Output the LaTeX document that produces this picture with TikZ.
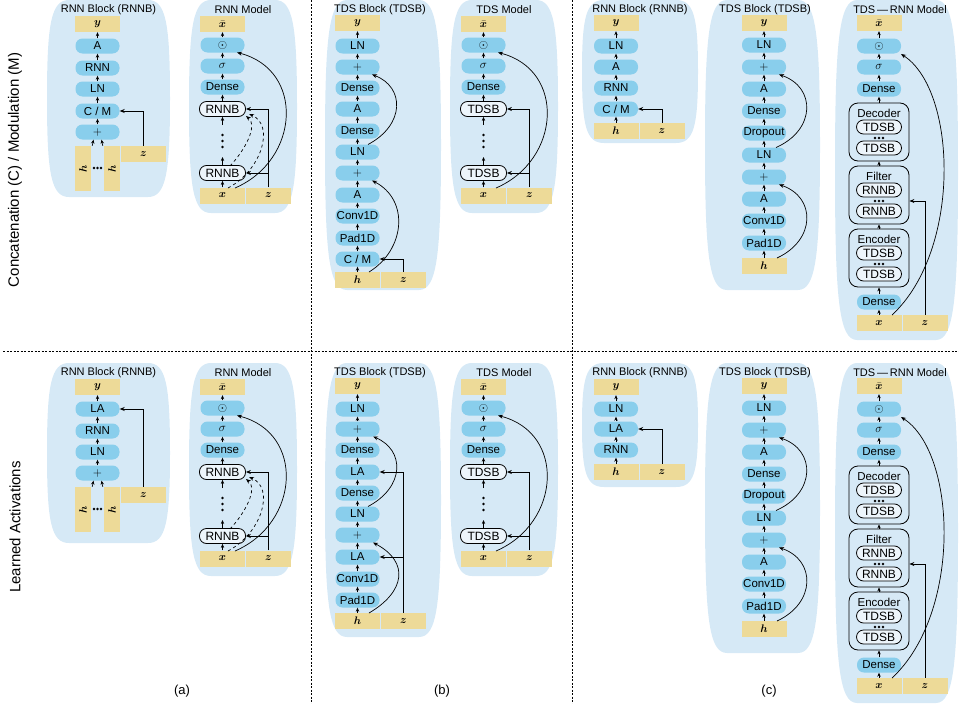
\documentclass[tikz,border=0pt]{standalone}
\usepackage{fontspec}
\setmainfont{Liberation Sans}
\usepackage{bm}
\usetikzlibrary{arrows.meta}
\definecolor{bgblue}{RGB}{214,233,246}
\definecolor{pillblue}{RGB}{137,206,236}
\definecolor{yellowc}{RGB}{237,218,152}
\newcommand\fsz{\fontsize{11}{13}\selectfont}
\newcommand\pfsz{\fontsize{11.5}{13}\selectfont}
\newcommand\ofsz{\fontsize{12}{14}\selectfont}
\tikzset{
 pill/.style={fill=pillblue, rounded corners=7pt, minimum width=44pt, minimum height=15pt, inner sep=0pt, font=\pfsz},
 opill/.style={draw=black, line width=0.8pt, fill=white!55!bgblue, rounded corners=7pt, minimum width=46pt, minimum height=15pt, inner ysep=0pt, inner xsep=5pt, font=\ofsz},
 ybox/.style={fill=yellowc, minimum width=45pt, minimum height=16pt, inner sep=0pt, font=\fsz},
 yboxtall/.style={fill=yellowc, minimum width=16pt, minimum height=45pt, inner sep=0pt},
 ttl/.style={font=\fsz, inner sep=0pt},
 sa/.style={-{Stealth[length=4pt,width=3.4pt]}, line width=0.6pt},
 conn/.style={-{Stealth[length=5pt,width=4pt]}, line width=0.7pt},
 grp/.style={draw=black, line width=0.8pt, rounded corners=9pt, minimum width=60pt, minimum height=58pt, inner sep=0pt},
 dot/.style={circle, fill=black, inner sep=0pt, minimum size=2.6pt},
 sepline/.style={dashed, dash pattern=on 2pt off 1.5pt, line width=0.6pt},
}
% soft background blob: left, top, right, bottom
\newcommand\bgblob[4]{%
\fill[bgblue] (#1+22,#2) -- (#3-22,#2)
 .. controls (#3-4,#2) and (#3,{#2+0.12*(#4-#2)}) .. (#3,{(#2+#4)/2})
 .. controls (#3,{#4-0.12*(#4-#2)}) and (#3-4,#4) .. (#3-22,#4)
 -- (#1+22,#4)
 .. controls (#1+4,#4) and (#1,{#4-0.12*(#4-#2)}) .. (#1,{(#2+#4)/2})
 .. controls (#1,{#2+0.12*(#4-#2)}) and (#1+4,#2) .. (#1+22,#2) -- cycle;}
% gated model (RNN Model / TDS Model)
\newcommand\GModel[6]{%
\begin{scope}[xshift=#3pt, yshift=#2pt]
\bgblob{189}{0}{297}{213}
\node[ttl] at (243,10) {#4};
\node[ybox] (#1xb) at (222.5,24) {$\bar{\bm{x}}$};
\node[pill] (#1o) at (222.5,45) {$\odot$};
\node[pill] (#1s) at (222.5,66) {$\sigma$};
\node[pill] (#1d) at (222.5,87) {Dense};
\node[opill] (#1b2) at (222.5,109) {#5};
\node[opill] (#1b1) at (222.5,173) {#5};
\node[ybox] (#1x) at (222.5,195.5) {$\bm{x}$};
\node[ybox] (#1z) at (268.5,195.5) {$\bm{z}$};
\node[dot] at (222.5,135) {};
\node[dot] at (222.5,141) {};
\node[dot] at (222.5,147) {};
\draw[sa] (#1x.north) -- (#1b1.south);
\draw[sa] (#1b1.north) -- (222.5,157);
\draw[sa] (222.5,125) -- (#1b2.south);
\foreach \a/\b in {#1b2/#1d, #1d/#1s, #1s/#1o, #1o/#1xb} \draw[sa] (\a.north) -- (\b.south);
\draw[conn] (#1z.north) |- (#1b2.east);
\draw[conn] (#1b1.east -| #1z.north) -- (#1b1.east);
\draw[conn] (235,188) .. controls (300,160) and (305,70) .. (237,52.5);
#6
\end{scope}}
% TDS block, panel (c)
\newcommand\TDSBc[2]{%
\begin{scope}[yshift=#2pt]
\bgblob{705}{0}{820}{290}
\node[ttl] at (765,10) {TDS Block (TDSB)};
\node[ybox] (#1y) at (764,23) {$\bm{y}$};
\node[pill] (#1lnb) at (764,45) {LN};
\node[pill] (#1pb) at (764,67) {$+$};
\node[pill] (#1ab) at (764,89) {A};
\node[pill] (#1d) at (764,111) {Dense};
\node[pill] (#1drop) at (764,133) {Dropout};
\node[pill] (#1lna) at (764,155) {LN};
\node[pill] (#1pa) at (764,177) {$+$};
\node[pill] (#1aa) at (764,199) {A};
\node[pill] (#1conv) at (764,221) {Conv1D};
\node[pill] (#1pad) at (764,243) {Pad1D};
\node[ybox] (#1h) at (764,266) {$\bm{h}$};
\foreach \a/\b in {#1h/#1pad, #1pad/#1conv, #1conv/#1aa, #1aa/#1pa, #1pa/#1lna, #1lna/#1drop, #1drop/#1d, #1d/#1ab, #1ab/#1pb, #1pb/#1lnb, #1lnb/#1y} \draw[sa] (\a.north) -- (\b.south);
\draw[conn] (777,258) .. controls (816,240) and (816,197) .. (779,184.5);
\draw[conn] (776,147.5) .. controls (816,130) and (816,87) .. (779,74.5);
\end{scope}}
% TDS-RNN model
\newcommand\TRModel[2]{%
\begin{scope}[yshift=#2pt]
\bgblob{835}{0}{958}{340}
\node[ttl] at (900,10) {TDS\,—\,RNN Model};
\node[ybox] (#1xb) at (879,23) {$\bar{\bm{x}}$};
\node[pill] (#1o) at (879,46) {$\odot$};
\node[pill] (#1s) at (879,67) {$\sigma$};
\node[pill] (#1d2) at (879,89) {Dense};
\node[grp] (#1dec) at (879,132) {};
\node[ttl, font=\pfsz] at (879,113) {Decoder};
\node[opill, minimum width=45pt, minimum height=14pt] (#1dt2) at (879,127) {TDSB};
\node[opill, minimum width=45pt, minimum height=14pt] (#1dt1) at (879,148) {TDSB};
\node[grp] (#1fil) at (879,195) {};
\node[ttl, font=\pfsz] at (879,176) {Filter};
\node[opill, minimum width=45pt, minimum height=14pt] (#1fr2) at (879,190) {RNNB};
\node[opill, minimum width=45pt, minimum height=14pt] (#1fr1) at (879,211) {RNNB};
\node[grp] (#1enc) at (879,258) {};
\node[ttl, font=\pfsz] at (879,239) {Encoder};
\node[opill, minimum width=45pt, minimum height=14pt] (#1et2) at (879,253) {TDSB};
\node[opill, minimum width=45pt, minimum height=14pt] (#1et1) at (879,274) {TDSB};
\foreach \yy in {138,201,264} {\node[dot] at (875,\yy) {}; \node[dot] at (879,\yy) {}; \node[dot] at (883,\yy) {};}
\node[pill] (#1d1) at (879,302) {Dense};
\node[ybox] (#1x) at (879,323) {$\bm{x}$};
\node[ybox] (#1z) at (925,323) {$\bm{z}$};
\foreach \a/\b in {#1x/#1d1, #1d1/#1enc, #1enc/#1fil, #1fil/#1dec, #1dec/#1d2, #1d2/#1s, #1s/#1o, #1o/#1xb} \draw[sa] (\a.north) -- (\b.south);
\draw[conn] (#1z.north) |- ([yshift=-6pt]#1fil.east);
\draw[conn] (892,315) .. controls (962,250) and (957,90) .. (901,54);
\end{scope}}

\begin{document}
\begin{tikzpicture}[x=1pt,y=-1pt]
\useasboundingbox (0,0) rectangle (959,704);

% separators and labels
\draw[sepline] (3,351) -- (959,351);
\draw[sepline] (311,0) -- (311,704);
\draw[sepline] (572,0) -- (572,704);
\node[rotate=90, font=\fontsize{15}{17}\selectfont] (lab1) at (15,170) {Concatenation (C) / Modulation (M)};
\node[rotate=90, font=\fontsize{15}{17}\selectfont] (lab2) at (15,527) {Learned Activations};
\node[font=\fontsize{13}{15}\selectfont] (capa) at (182,691) {(a)};
\node[font=\fontsize{13}{15}\selectfont] (capb) at (442,691) {(b)};
\node[font=\fontsize{13}{15}\selectfont] (capc) at (769,691) {(c)};

% ===== (a) top: RNN Block =====
\bgblob{47}{0}{170}{197}
\node[ttl] at (108.5,10) {RNN Block (RNNB)};
\node[ybox] (a1y) at (97.5,24) {$\bm{y}$};
\node[pill] (a1A) at (97.5,46) {A};
\node[pill] (a1rnn) at (97.5,68) {RNN};
\node[pill] (a1ln) at (97.5,89) {LN};
\node[pill] (a1cm) at (97.5,111) {C / M};
\node[pill] (a1p) at (97.5,132) {$+$};
\node[yboxtall] (a1h1) at (83,168.5) {};
\node[yboxtall] (a1h2) at (112,168.5) {};
\node[rotate=90, font=\fsz] at (a1h1) {$\bm{h}$};
\node[rotate=90, font=\fsz] at (a1h2) {$\bm{h}$};
\node[dot] at (94,168) {}; \node[dot] at (97.5,168) {}; \node[dot] at (101,168) {};
\node[ybox] (a1z) at (143.5,154) {$\bm{z}$};
\foreach \a/\b in {a1p/a1cm, a1cm/a1ln, a1ln/a1rnn, a1rnn/a1A, a1A/a1y} \draw[sa] (\a.north) -- (\b.south);
\draw[sa] ([xshift=1pt]a1h1.north east) -- ([xshift=-4pt]a1p.south);
\draw[sa] ([xshift=-1pt]a1h2.north west) -- ([xshift=4pt]a1p.south);
\draw[conn] (a1z.north) |- (a1cm.east);

% ===== (a) top: RNN Model =====
\GModel{a2}{0}{0}{RNN Model}{RNNB}{%
\draw[conn, dashed] (228,188) .. controls (262,170) and (275,125) .. (249,114);
\draw[conn, dashed] (230,166) .. controls (245,150) and (258,126) .. (246,116);}

% ===== (b) top: TDS Block =====
\bgblob{325}{0}{441}{290}
\node[ttl] at (380,10) {TDS Block (TDSB)};
\node[ybox] (b1y) at (357.5,23) {$\bm{y}$};
\node[pill] (b1lnb) at (357.5,46) {LN};
\node[pill] (b1pb) at (357.5,67) {$+$};
\node[pill] (b1db) at (357.5,88) {Dense};
\node[pill] (b1a) at (357.5,109) {A};
\node[pill] (b1da) at (357.5,131) {Dense};
\node[pill] (b1lna) at (357.5,152) {LN};
\node[pill] (b1pa) at (357.5,173) {$+$};
\node[pill] (b1aa) at (357.5,195) {A};
\node[pill] (b1conv) at (357.5,216) {Conv1D};
\node[pill] (b1pad) at (357.5,238) {Pad1D};
\node[pill] (b1cm) at (357.5,259) {C / M};
\node[ybox] (b1h) at (357.5,280) {$\bm{h}$};
\node[ybox] (b1z) at (403.5,280) {$\bm{z}$};
\foreach \a/\b in {b1h/b1cm, b1cm/b1pad, b1pad/b1conv, b1conv/b1aa, b1aa/b1pa, b1pa/b1lna, b1lna/b1da, b1da/b1a, b1a/b1db, b1db/b1pb, b1pb/b1lnb, b1lnb/b1y} \draw[sa] (\a.north) -- (\b.south);
\draw[conn] (b1z.north) |- (b1cm.east);
\draw[conn] (369,272) .. controls (405,250) and (410,200) .. (372,180.5);
\draw[conn] (368,144.5) .. controls (405,125) and (405,87) .. (372,74.5);

% ===== (b) top: TDS Model =====
\GModel{b2}{0}{261}{TDS Model}{TDSB}{}

% ===== (c) top: RNN Block =====
\bgblob{582}{0}{698}{143}
\node[ttl] at (640,10) {RNN Block (RNNB)};
\node[ybox] (c1y) at (616,23) {$\bm{y}$};
\node[pill] (c1ln) at (616,46) {LN};
\node[pill] (c1a) at (616,67) {A};
\node[pill] (c1rnn) at (616,88) {RNN};
\node[pill] (c1cm) at (616,109) {C / M};
\node[ybox] (c1h) at (616,131) {$\bm{h}$};
\node[ybox] (c1z) at (662,131) {$\bm{z}$};
\foreach \a/\b in {c1h/c1cm, c1cm/c1rnn, c1rnn/c1a, c1a/c1ln, c1ln/c1y} \draw[sa] (\a.north) -- (\b.south);
\draw[conn] (c1z.north) |- (c1cm.east);

\TDSBc{c2}{0}
\TRModel{c3}{0}

% ===== (a) bottom: RNN Block (LA) =====
\bgblob{47}{363}{170}{543}
\node[ttl] at (108.5,373) {RNN Block (RNNB)};
\node[ybox] (a3y) at (97.5,387) {$\bm{y}$};
\node[pill] (a3la) at (97.5,409) {LA};
\node[pill] (a3rnn) at (97.5,431) {RNN};
\node[pill] (a3ln) at (97.5,452) {LN};
\node[pill] (a3p) at (97.5,473) {$+$};
\node[yboxtall] (a3h1) at (83,509.5) {};
\node[yboxtall] (a3h2) at (112,509.5) {};
\node[rotate=90, font=\fsz] at (a3h1) {$\bm{h}$};
\node[rotate=90, font=\fsz] at (a3h2) {$\bm{h}$};
\node[dot] at (94,509) {}; \node[dot] at (97.5,509) {}; \node[dot] at (101,509) {};
\node[ybox] (a3z) at (143.5,495) {$\bm{z}$};
\foreach \a/\b in {a3p/a3ln, a3ln/a3rnn, a3rnn/a3la, a3la/a3y} \draw[sa] (\a.north) -- (\b.south);
\draw[sa] ([xshift=1pt]a3h1.north east) -- ([xshift=-4pt]a3p.south);
\draw[sa] ([xshift=-1pt]a3h2.north west) -- ([xshift=4pt]a3p.south);
\draw[conn] (a3z.north) |- (a3la.east);

% ===== (a) bottom: RNN Model =====
\GModel{a4}{-363}{0}{RNN Model}{RNNB}{%
\draw[conn, dashed] (228,188) .. controls (262,170) and (275,125) .. (249,114);
\draw[conn, dashed] (230,166) .. controls (245,150) and (258,126) .. (246,116);}

% ===== (b) bottom: TDS Block (LA) =====
\bgblob{325}{363}{441}{637}
\node[ttl] at (380,373) {TDS Block (TDSB)};
\node[ybox] (b3y) at (357.5,386) {$\bm{y}$};
\node[pill] (b3lnb) at (357.5,409) {LN};
\node[pill] (b3pb) at (357.5,429) {$+$};
\node[pill] (b3db) at (357.5,450) {Dense};
\node[pill] (b3lab) at (357.5,472) {LA};
\node[pill] (b3da) at (357.5,493) {Dense};
\node[pill] (b3lna) at (357.5,514) {LN};
\node[pill] (b3pa) at (357.5,535) {$+$};
\node[pill] (b3laa) at (357.5,557) {LA};
\node[pill] (b3conv) at (357.5,579) {Conv1D};
\node[pill] (b3pad) at (357.5,600) {Pad1D};
\node[ybox] (b3h) at (357.5,621) {$\bm{h}$};
\node[ybox] (b3z) at (403.5,621) {$\bm{z}$};
\foreach \a/\b in {b3h/b3pad, b3pad/b3conv, b3conv/b3laa, b3laa/b3pa, b3pa/b3lna, b3lna/b3da, b3da/b3lab, b3lab/b3db, b3db/b3pb, b3pb/b3lnb, b3lnb/b3y} \draw[sa] (\a.north) -- (\b.south);
\draw[conn] (b3z.north) |- (b3lab.east);
\draw[conn] (b3laa.east -| b3z.north) -- (b3laa.east);
\draw[conn] (369,613) .. controls (405,592) and (410,562) .. (373,542.5);
\draw[conn] (368,506.5) .. controls (405,487) and (405,450) .. (373,436.5);

% ===== (b) bottom: TDS Model =====
\GModel{b4}{-363}{261}{TDS Model}{TDSB}{}

% ===== (c) bottom: RNN Block (LA) =====
\bgblob{582}{363}{698}{487}
\node[ttl] at (640,373) {RNN Block (RNNB)};
\node[ybox] (c4y) at (616,387) {$\bm{y}$};
\node[pill] (c4ln) at (616,409) {LN};
\node[pill] (c4la) at (616,429) {LA};
\node[pill] (c4rnn) at (616,450) {RNN};
\node[ybox] (c4h) at (616,472) {$\bm{h}$};
\node[ybox] (c4z) at (662,472) {$\bm{z}$};
\foreach \a/\b in {c4h/c4rnn, c4rnn/c4la, c4la/c4ln, c4ln/c4y} \draw[sa] (\a.north) -- (\b.south);
\draw[conn] (c4z.north) |- (c4la.east);

\TDSBc{c5}{-363}
\TRModel{c6}{-363}
\end{tikzpicture}
\end{document}
